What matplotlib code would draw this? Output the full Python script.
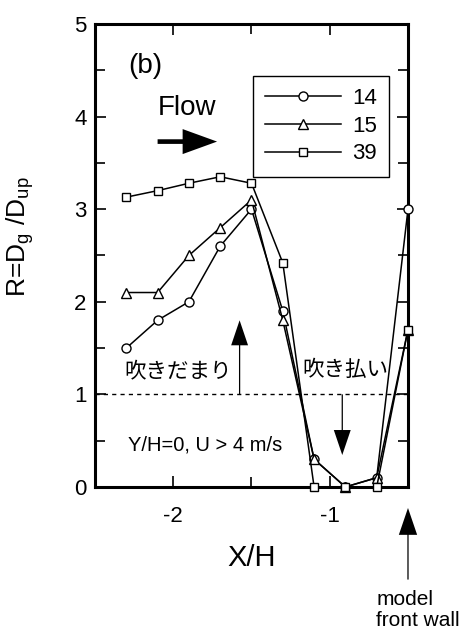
import matplotlib
matplotlib.use("Agg")
import matplotlib.pyplot as plt
from matplotlib.ticker import MultipleLocator

plt.rcParams["font.family"] = ["Liberation Sans", "Noto Sans CJK JP"]
plt.rcParams["mathtext.fontset"] = "custom"
plt.rcParams["mathtext.rm"] = "Liberation Sans"
plt.rcParams["axes.unicode_minus"] = False

# streamwise position and snow-depth ratio for each run
x_over_h = [-2.3, -2.1, -1.9, -1.7, -1.5, -1.3, -1.1, -0.9, -0.7, -0.5]
r_run14 = [1.5, 1.8, 2.0, 2.6, 3.0, 1.9, 0.3, 0.0, 0.1, 3.0]
r_run15 = [2.1, 2.1, 2.5, 2.8, 3.1, 1.8, 0.3, 0.0, 0.1, 1.7]
r_run39 = [3.13, 3.2, 3.28, 3.35, 3.28, 2.42, 0.0, 0.0, 0.0, 1.7]
run_labels = ["14", "15", "39"]

fig = plt.figure(figsize=(4.65, 6.33), dpi=100)
ax = fig.add_axes([0.2043, 0.2307, 0.6731, 0.7314])

common = dict(color="black", lw=1.1, mfc="white", mec="black", mew=1.0, clip_on=False)
l14, = ax.plot(x_over_h, r_run14, marker="o", ms=6.5, zorder=3, **common)
l15, = ax.plot(x_over_h, r_run15, marker="^", ms=6.5, zorder=4, **common)
l39, = ax.plot(x_over_h, r_run39, marker="s", ms=6.0, zorder=5, **common)

ax.axhline(1.0, color="black", lw=1.0, ls=(0, (3, 3)), zorder=1)

ax.set_xlim(-2.5, -0.5)
ax.set_ylim(0, 5)
ax.xaxis.set_major_locator(MultipleLocator(1))
ax.xaxis.set_minor_locator(MultipleLocator(0.5))
ax.yaxis.set_major_locator(MultipleLocator(1))
ax.yaxis.set_minor_locator(MultipleLocator(0.5))
ax.tick_params(which="both", direction="in", top=True, right=True, width=1.2)
ax.tick_params(which="major", length=8, labelsize=16)
ax.tick_params(which="minor", length=7)
ax.tick_params(axis="x", pad=14)
ax.tick_params(axis="y", pad=6)
for sp in ax.spines.values():
    sp.set_linewidth(2.2)

ax.set_xlabel("X/H", fontsize=21, labelpad=12)
ax.set_ylabel(r"R=D$_\mathrm{g}$ /D$_\mathrm{up}$", fontsize=19)
ax.yaxis.set_label_coords(-0.19, 0.54)

leg = ax.legend([l14, l15, l39], run_labels, loc="upper left",
                bbox_to_anchor=(0.505, 0.888), borderaxespad=0, fontsize=16,
                handlelength=3.4, handletextpad=0.5, labelspacing=0.3,
                borderpad=0.55, fancybox=False, framealpha=1, edgecolor="black")
leg.get_frame().set_linewidth(1.0)

ax.text(-2.29, 4.55, "(b)", fontsize=20, va="center", ha="left")
ax.text(-2.1, 4.09, "Flow", fontsize=20, va="center", ha="left")
ax.arrow(-2.1, 3.73, 0.38, 0, width=0.05, head_width=0.27, head_length=0.22,
         length_includes_head=True, color="black", lw=0)

ax.text(-2.31, 1.24, "吹きだまり", fontsize=15.5, va="center", ha="left")
ax.arrow(-1.576, 1.0, 0, 0.8, width=0.008, head_width=0.108, head_length=0.27,
         length_includes_head=True, color="black", lw=0)

ax.text(-1.175, 1.26, "吹き払い", fontsize=15.5, va="center", ha="left")
ax.arrow(-0.92, 1.0, 0, -0.655, width=0.008, head_width=0.108, head_length=0.27,
         length_includes_head=True, color="black", lw=0)

ax.text(-2.29, 0.45, "Y/H=0, U > 4 m/s", fontsize=14.5, va="center", ha="left")

# marker for the model's front wall below the axis
ax.arrow(-0.5, -1.0, 0, 0.773, width=0.008, head_width=0.117, head_length=0.29,
         length_includes_head=True, color="black", lw=0, clip_on=False)
ax.text(-0.704, -1.11, "model\nfront wall", fontsize=15, va="top", ha="left",
        linespacing=1.15, clip_on=False)

fig.savefig("out.png", dpi=100)
